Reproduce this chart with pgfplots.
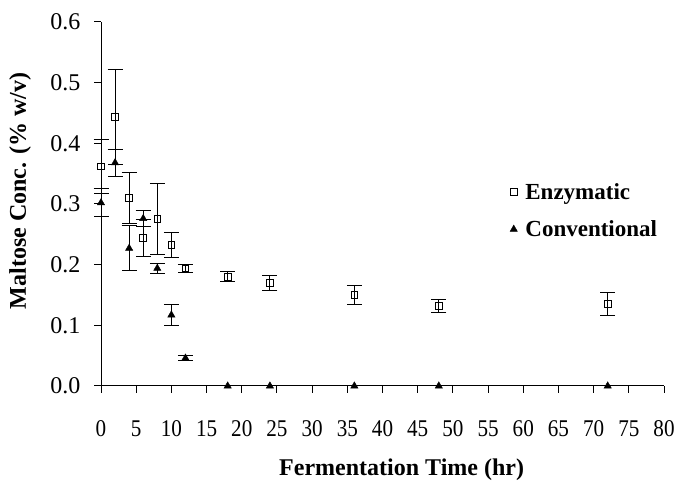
\documentclass[border=0pt]{standalone}
\usepackage{fontspec}
\setmainfont{Liberation Serif}
\newfontfamily\tickfont[FakeStretch=0.88]{Liberation Serif}
\usepackage{pgfplots}
\pgfplotsset{compat=1.18}

\begin{document}
\begin{tikzpicture}
\begin{axis}[
  scale only axis,
  width=563pt, height=364pt,
  xmin=0, xmax=80, ymin=0, ymax=0.6,
  xtick={0,5,...,80},
  ytick={0,0.1,0.2,0.3,0.4,0.5,0.6},
  axis x line*=bottom, axis y line*=left,
  xtick pos=bottom, ytick pos=left,
  xtick align=outside, ytick align=outside,
  axis line style={-, line width=1pt},
  every tick/.style={black, line width=1pt},
  major tick length=7pt,
  /pgf/number format/assume math mode=true,
  xticklabel style={font=\tickfont\fontsize{24}{28}\selectfont, yshift=-24pt},
  yticklabel style={font=\fontsize{24}{28}\selectfont, xshift=-10pt},
  label style={font=\fontsize{24}{28}\selectfont\bfseries},
  yticklabel={\pgfmathprintnumber[fixed, fixed zerofill, precision=1]{\tick}},
  xlabel={Fermentation Time (hr)},
  ylabel={Maltose Conc. (\% w/v)},
  xlabel style={at={(axis description cs:0.534,-0.231)}, anchor=center},
  ylabel style={at={(axis description cs:-0.1439,0.536)}, anchor=center},
  legend style={draw=none, fill=none, at={(axis description cs:0.721,0.569)}, anchor=north west,
    font=\fontsize{23}{27}\selectfont\bfseries, row sep=16pt,
    /tikz/every odd column/.append style={column sep=6pt}},
  legend cell align=left,
  clip=false,
]
\addplot[only marks, mark=square, mark size=3.3pt, mark options={black, line width=0.9pt, fill=white},
  error bars/.cd, y dir=both, y explicit, error mark=|,
  error bar style={black, line width=1pt},
  error mark options={black, line width=1pt, mark size=7.5pt}]
  table[x=t, y=m, y error=e] {
t m e
0 0.362 0.045
2 0.443 0.078
4 0.310 0.042
6 0.244 0.031
8 0.275 0.058
10 0.232 0.021
12 0.194 0.007
18 0.180 0.008
24 0.170 0.012
36 0.150 0.015
48 0.132 0.011
72 0.135 0.019
};
\addlegendentry{Enzymatic}
\addplot[only marks, mark=triangle*, mark size=4.2pt, mark options={black, fill=black},
  error bars/.cd, y dir=both, y explicit, error mark=|,
  error bar style={black, line width=1pt},
  error mark options={black, line width=1pt, mark size=7.5pt}]
  table[x=t, y=m, y error=e] {
t m e
0 0.302 0.023
2 0.368 0.022
4 0.227 0.037
6 0.276 0.013
8 0.194 0.008
10 0.117 0.018
12 0.046 0.004
18 0 0
24 0 0
36 0 0
48 0 0
72 0 0
};
\addlegendentry{Conventional}
\end{axis}
\pgfresetboundingbox
\path ([shift={(-101pt,-96pt)}]current axis.south west) rectangle ([shift={(11pt,22pt)}]current axis.north east);
\end{tikzpicture}
\end{document}
